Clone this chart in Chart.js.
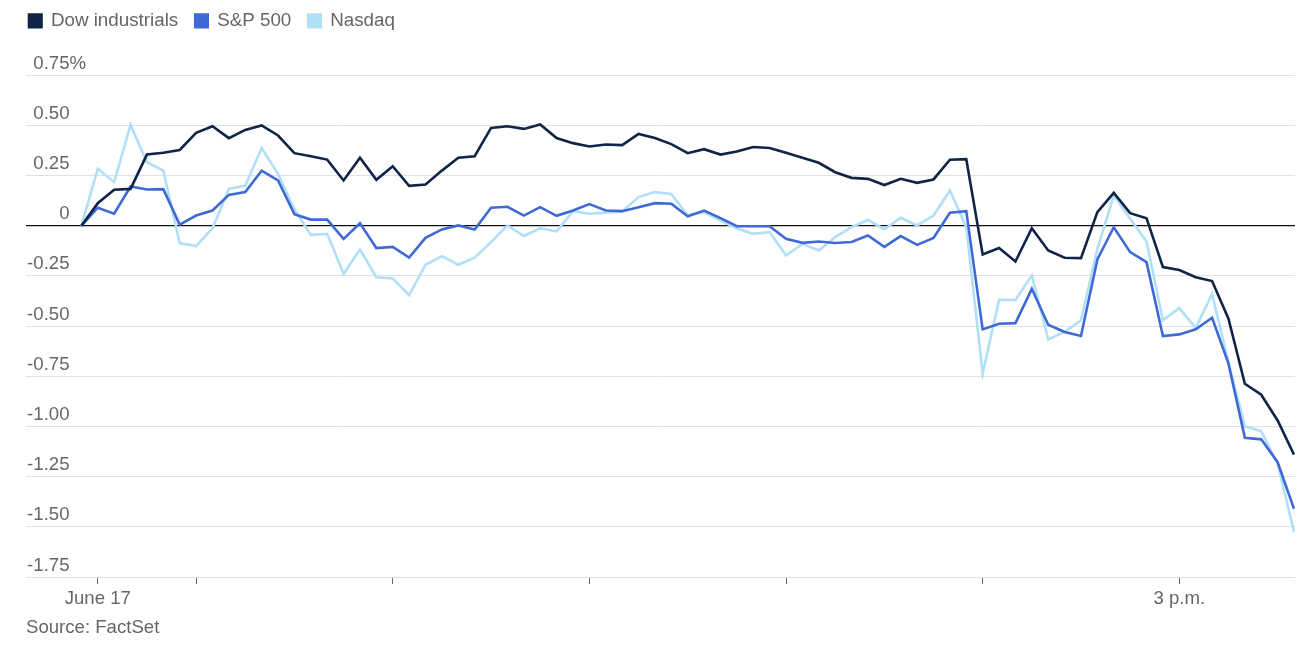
<!DOCTYPE html>
<html>
<head>
<meta charset="utf-8">
<script src="https://cdn.jsdelivr.net/npm/chart.js@4/dist/chart.umd.min.js"></script>
<style>
  html, body { margin: 0; padding: 0; background: #fff; overflow: hidden; }
  body { width: 1315px; height: 646px; position: relative; }
  #wrap { position: absolute; left: 0; top: -6px; width: 1315px; height: 652px; }
  #source { position: absolute; left: 26px; top: 616px; font: 18.6px/22px "Liberation Sans", Arial, sans-serif; color: #666; white-space: nowrap; }
</style>
</head>
<body>
<div id="wrap"><canvas id="chart"></canvas></div>
<div id="source">Source: FactSet</div>
<script>
// ---- data (percent change, 5-minute intervals from 9:25 a.m.) ----
const seriesNames = ['Dow industrials', 'S&P 500', 'Nasdaq'];
const seriesColors = ['#0f2447', '#3f6ad6', '#b1dff7'];

const dow = [0, 0.113, 0.18, 0.184, 0.355, 0.364, 0.378, 0.463, 0.496, 0.437,
  0.478, 0.50, 0.45, 0.362, 0.347, 0.33, 0.226, 0.339, 0.229, 0.297,
  0.199, 0.206, 0.275, 0.339, 0.347, 0.488, 0.496, 0.483, 0.505, 0.437,
  0.412, 0.395, 0.405, 0.402, 0.458, 0.437, 0.407, 0.362, 0.382, 0.355,
  0.37, 0.393, 0.388, 0.364, 0.339, 0.314, 0.267, 0.239, 0.234, 0.203,
  0.234, 0.214, 0.231, 0.329, 0.332, -0.143, -0.111, -0.178, -0.012, -0.123,
  -0.159, -0.161, 0.068, 0.164, 0.063, 0.038, -0.206, -0.22, -0.256, -0.275,
  -0.463, -0.787, -0.842, -0.97, -1.14];

const sp500 = [0, 0.09, 0.06, 0.196, 0.181, 0.183, 0.006, 0.051, 0.076, 0.154,
  0.168, 0.275, 0.226, 0.058, 0.031, 0.031, -0.065, 0.013, -0.111, -0.105,
  -0.158, -0.06, -0.018, 0.002, -0.018, 0.09, 0.095, 0.051, 0.093, 0.05,
  0.076, 0.108, 0.076, 0.073, 0.093, 0.113, 0.11, 0.048, 0.076, 0.038,
  -0.002, -0.002, -0.002, -0.065, -0.085, -0.078, -0.086, -0.081, -0.048, -0.105,
  -0.051, -0.095, -0.061, 0.065, 0.073, -0.516, -0.488, -0.485, -0.314, -0.493,
  -0.529, -0.549, -0.168, -0.007, -0.131, -0.181, -0.549, -0.541, -0.516, -0.458,
  -0.687, -1.056, -1.064, -1.178, -1.41];

const nasdaq = [0, 0.284, 0.218, 0.503, 0.317, 0.275, -0.086, -0.101, -0.012, 0.184,
  0.20, 0.388, 0.259, 0.081, -0.045, -0.04, -0.239, -0.118, -0.256, -0.262,
  -0.345, -0.194, -0.151, -0.194, -0.159, -0.081, 0.002, -0.051, -0.012, -0.028,
  0.073, 0.06, 0.065, 0.071, 0.143, 0.168, 0.159, 0.051, 0.068, 0.026,
  -0.013, -0.04, -0.031, -0.148, -0.09, -0.123, -0.056, -0.007, 0.03, -0.018,
  0.04, 0.002, 0.051, 0.176, -0.007, -0.737, -0.369, -0.369, -0.247, -0.566,
  -0.529, -0.471, -0.115, 0.151, 0.035, -0.078, -0.471, -0.41, -0.51, -0.339,
  -0.679, -1.0, -1.023, -1.185, -1.525];

// time of each observation, minutes after midnight (9:25 a.m. onward, every 5 minutes)
const startMinute = 565;
const stepMinutes = 5;
const times = dow.map((_, i) => startMinute + stepMinutes * i);

// x-axis ticks (minutes after midnight) and their labels
const xTickValues = [570, 600, 660, 720, 780, 840, 900];
const xTickLabels = ['June 17', '', '', '', '', '', '3 p.m.'];
const xMin = 548.1, xMax = 935.3;

// y-axis ticks and labels
const yTickValues = [-1.75, -1.5, -1.25, -1, -0.75, -0.5, -0.25, 0, 0.25, 0.5, 0.75];
const yTickLabels = ['-1.75', '-1.50', '-1.25', '-1.00', '-0.75', '-0.50', '-0.25', '0', '0.25', '0.50', '0.75'];
const yTopSuffix = '%';

// ---- chart ----
const FONT = '"Liberation Sans", Arial, Helvetica, sans-serif';
const TEXT = '#666';
Chart.defaults.font.family = FONT;
Chart.defaults.font.size = 18.6;
Chart.defaults.color = TEXT;

const allSeries = [dow, sp500, nasdaq];
const datasets = allSeries.map((vals, s) => ({
  label: seriesNames[s],
  data: vals.map((v, i) => ({ x: times[i], y: v })),
  borderColor: seriesColors[s],
  backgroundColor: seriesColors[s],
  borderWidth: 2.6,
  pointRadius: 0,
  pointHoverRadius: 0,
  tension: 0,
  borderJoinStyle: 'miter'
}));

const legendSpacing = {
  id: 'legendSpacing',
  beforeInit(chart) {
    const fit = chart.legend.fit;
    chart.legend.fit = function () { fit.call(this); this.height += 35; };
  }
};

const yLabels = {
  id: 'yLabels',
  beforeDatasetsDraw(chart) {
    const ys = chart.scales.y;
    const ctx = chart.ctx;
    ctx.save();
    ctx.font = '18.6px ' + FONT;
    ctx.fillStyle = TEXT;
    ctx.textBaseline = 'alphabetic';
    const right = chart.chartArea.left + 43.5;
    yTickValues.forEach((v, i) => {
      const py = ys.getPixelForValue(v) - 6.5;
      ctx.textAlign = 'right';
      ctx.fillText(yTickLabels[i], right, py);
      if (i === yTickValues.length - 1) {
        ctx.textAlign = 'left';
        ctx.fillText(yTopSuffix, right, py);
      }
    });
    ctx.restore();
  }
};

new Chart(document.getElementById('chart'), {
  type: 'line',
  data: { datasets },
  plugins: [legendSpacing, yLabels],
  options: {
    responsive: true,
    maintainAspectRatio: false,
    animation: false,
    events: [],
    layout: { padding: { left: 12, right: 20, top: 0.5, bottom: 32 } },
    plugins: {
      legend: {
        display: true,
        position: 'top',
        align: 'start',
        labels: {
          boxWidth: 12.5,
          boxHeight: 12.5,
          padding: 17,
          color: TEXT,
          font: { size: 18.8, family: FONT }
        }
      },
      tooltip: { enabled: false }
    },
    scales: {
      x: {
        type: 'linear',
        min: xMin,
        max: xMax,
        afterBuildTicks(scale) { scale.ticks = xTickValues.map(v => ({ value: v })); },
        afterFit(scale) { scale.height = 37; },
        ticks: {
          autoSkip: false,
          maxRotation: 0,
          padding: 4,
          color: TEXT,
          font: { size: 18.6, family: FONT },
          callback(value) {
            const i = xTickValues.indexOf(value);
            return i >= 0 ? xTickLabels[i] : '';
          }
        },
        grid: {
          display: true,
          drawOnChartArea: false,
          drawTicks: true,
          tickLength: 7,
          tickColor: '#666',
          tickWidth: 1,
          lineWidth: 1
        },
        border: { display: false }
      },
      y: {
        type: 'linear',
        min: -1.75,
        max: 0.75,
        afterBuildTicks(scale) { scale.ticks = yTickValues.map(v => ({ value: v })); },
        afterFit(scale) { scale.width = 14; },
        ticks: { display: false },
        grid: {
          drawTicks: false,
          color: ctx => (ctx.tick && ctx.tick.value === 0) ? '#111' : '#e1e1e1',
          lineWidth: ctx => (ctx.tick && ctx.tick.value === 0) ? 1.3 : 1
        },
        border: { display: false }
      }
    }
  }
});
</script>
</body>
</html>
